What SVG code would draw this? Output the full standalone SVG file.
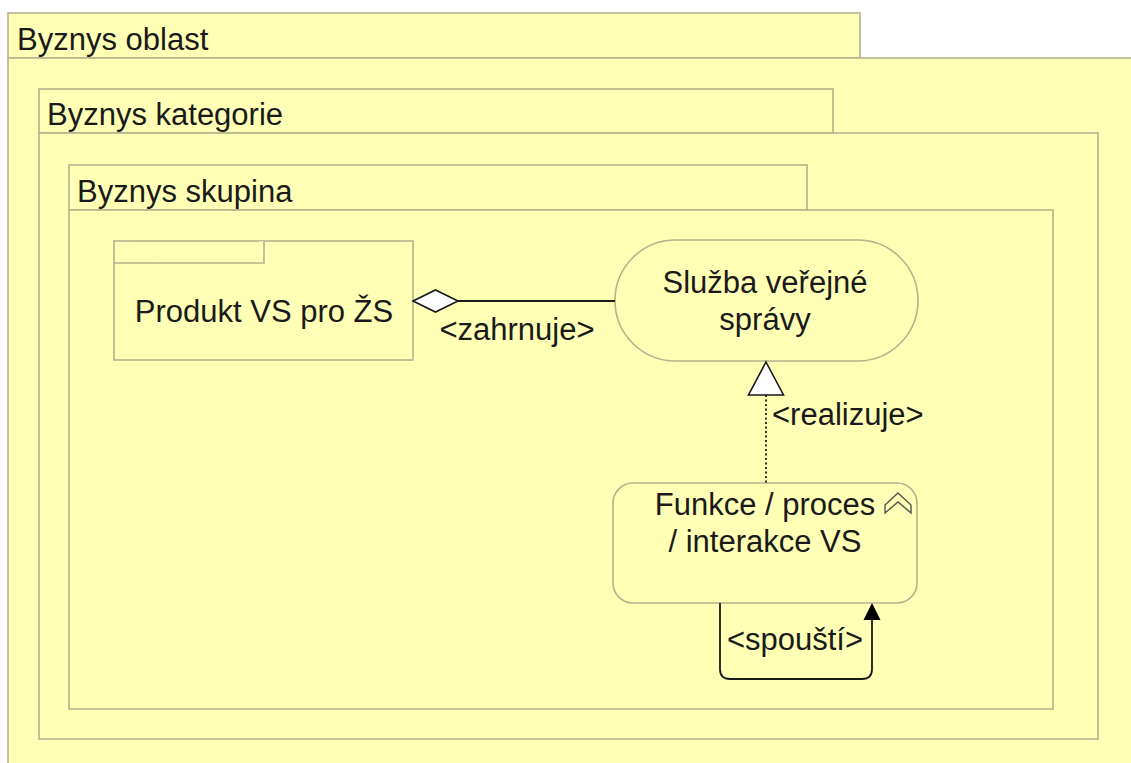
<svg xmlns="http://www.w3.org/2000/svg" width="1131" height="763" viewBox="0 0 1131 763">
<style>
.grp{fill:#ffffb5;stroke:#b3b38c;stroke-width:1.6}
.nd{fill:#ffffb5;stroke:#b3b38c;stroke-width:1.6}
.t{font-family:"Liberation Sans",Arial,sans-serif;font-size:31px;fill:#1a1a1a}
.c{text-anchor:middle}
.ln{fill:none;stroke:#1a1a1a;stroke-width:1.8}
</style>
<defs>
<marker id="arr" markerWidth="18" markerHeight="18" refX="9" refY="0" orient="auto" markerUnits="userSpaceOnUse" viewBox="-9 -1 18 19">
<path d="M0,0 L8.5,17 L-8.5,17 Z" fill="#000"/>
</marker>
</defs>
<rect width="1131" height="763" fill="#ffffff"/>
<g id="byznys-oblast">
<rect class="grp" x="8" y="13" width="852" height="45"/>
<rect class="grp" x="8" y="58" width="1140" height="720"/>
<text class="t" x="17" y="50">Byznys oblast</text>
</g>
<g id="byznys-kategorie">
<rect class="grp" x="39" y="89" width="794" height="44"/>
<rect class="grp" x="39" y="133" width="1059" height="606"/>
<text class="t" x="47" y="125">Byznys kategorie</text>
</g>
<g id="byznys-skupina">
<rect class="grp" x="69" y="165" width="738" height="45"/>
<rect class="grp" x="69" y="210" width="984" height="499"/>
<text class="t" x="77" y="202">Byznys skupina</text>
</g>
<g id="produkt">
<rect class="nd" x="114" y="241" width="299" height="119"/>
<path class="nd" d="M114,263 H264 V241" fill="none"/>
<text class="t c" x="264" y="322">Produkt VS pro ŽS</text>
</g>
<g id="sluzba">
<rect class="nd" x="615" y="240" width="303" height="121" rx="60.5" ry="60.5"/>
<text class="t c" x="765" y="293">Služba veřejné</text>
<text class="t c" x="765" y="330">správy</text>
</g>
<g id="funkce">
<rect class="nd" x="613" y="483" width="304" height="120" rx="20" ry="20"/>
<path d="M885,505 L898,493 L911,505 L911,513 L898,502 L885,513 Z" fill="none" stroke="#555" stroke-width="1.4"/>
<text class="t c" x="765" y="515">Funkce / proces</text>
<text class="t c" x="765" y="552">/ interakce VS</text>
</g>
<g id="connectors">
<line class="ln" x1="458" y1="301" x2="615" y2="301"/>
<path d="M413,301 L435.5,290 L458,301 L435.5,312 Z" fill="#ffffff" stroke="#1a1a1a" stroke-width="1.6"/>
<text class="t c" x="517" y="340">&lt;zahrnuje&gt;</text>
<line x1="766" y1="395" x2="766" y2="483" stroke="#1a1a1a" stroke-width="1.8" stroke-dasharray="2,2.5"/>
<path d="M766,362 L783.5,395 L748.5,395 Z" fill="#ffffff" stroke="#1a1a1a" stroke-width="1.6"/>
<text class="t" x="772" y="425">&lt;realizuje&gt;</text>
<path class="ln" d="M720,603 V669 Q720,679 730,679 H862 Q872,679 872,669 V618"/>
<path d="M872,603 L880.5,620 L863.5,620 Z" fill="#000"/>
<text class="t c" x="795" y="650">&lt;spouští&gt;</text>
</g>
</svg>
